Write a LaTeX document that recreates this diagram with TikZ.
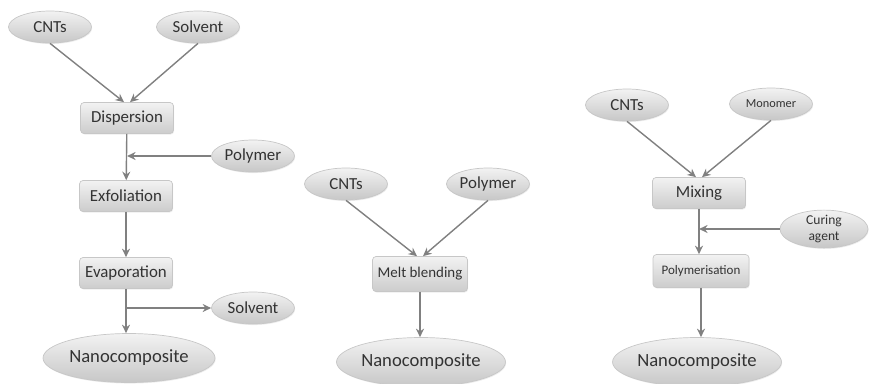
\documentclass[tikz,border=0pt]{standalone}
\usepackage{fontspec}
\setmainfont{Carlito}
\usetikzlibrary{arrows.meta,positioning,shapes.geometric,shadows,calc}

\begin{document}
\begin{tikzpicture}[
  x=0.02cm,y=-0.02cm,
  feed/.style={ellipse, draw=black!22, top color=black!5, bottom color=black!22, inner sep=0pt,
    minimum width=1.66cm, minimum height=0.64cm, text=black!80, font=\fontsize{9.6}{11}\selectfont,
    drop shadow={opacity=0.15, shadow xshift=0.4pt, shadow yshift=-0.6pt}},
  prod/.style={feed, minimum width=3.44cm, minimum height=0.98cm, font=\fontsize{10.6}{12}\selectfont},
  stage/.style={draw=black!22, rounded corners=2pt, top color=black!5, bottom color=black!20, align=center,
    minimum width=1.86cm, minimum height=0.62cm, inner sep=1pt, text=black!80, font=\fontsize{9.6}{11}\selectfont,
    drop shadow={opacity=0.15, shadow xshift=0.4pt, shadow yshift=-0.6pt}},
  arr/.style={-{Stealth[length=1.7mm,width=1.6mm]}, draw=black!50, line width=0.8pt}
]
\useasboundingbox (0,0) rectangle (869,383);

% solution processing
\node[feed] (cntA) at (50,27) {CNTs};
\node[feed] (solvA) at (198,27) {Solvent};
\node[stage] (disp) at (127,118) {Dispersion};
\node[feed] (polyA) at (253,156) {Polymer};
\node[stage] (exfo) at (126,196) {Exfoliation};
\node[stage] (evap) at (126,273) {Evaporation};
\node[feed] (solvB) at (253,308) {Solvent};
\node[prod] (ncA) at (129,358) {Nanocomposite};
\coordinate (joinA) at ($(disp.south |- polyA.west)+(0.08,0)$);
\coordinate (split) at (evap.south |- solvB.west);
\draw[arr] (cntA.south) -- ([xshift=-0.6mm]disp.north);
\draw[arr] (solvA.south) -- ([xshift=0.6mm]disp.north);
\draw[arr] (disp) -- (exfo);
\draw[arr] (polyA.west) -- (joinA);
\draw[arr] (exfo) -- (evap);
\draw[arr] (evap.south) -- (evap.south |- ncA.north);
\draw[arr] (split) -- (solvB.west);

% melt blending
\node[feed] (cntB) at (346,184) {CNTs};
\node[feed] (polyB) at (488,184) {Polymer};
\node[stage, minimum width=1.9cm, minimum height=0.7cm, font=\fontsize{8.5}{10}\selectfont] (melt) at (420,274) {Melt blending};
\node[prod, minimum width=3.36cm] (ncB) at (421,362) {Nanocomposite};
\draw[arr] (cntB.south) -- ([xshift=-0.6mm]melt.north);
\draw[arr] (polyB.south) -- ([xshift=0.6mm]melt.north);
\draw[arr] (melt.south) -- (melt.south |- ncB.north);

% in situ polymerisation
\node[feed] (cntC) at (627,105) {CNTs};
\node[feed, font=\fontsize{7}{8}\selectfont] (mono) at (771,104) {Monomer};
\node[stage] (mix) at (699,193) {Mixing};
\node[feed, minimum width=1.76cm, minimum height=0.68cm, align=center, font=\fontsize{7.7}{8.6}\selectfont] (cure) at (824,229) {Curing\\agent};
\node[stage, minimum width=1.92cm, minimum height=0.66cm, font=\fontsize{7.4}{9}\selectfont] (poly) at (701,271) {Polymerisation};
\node[prod, minimum width=3.0cm] (ncC) at (697,362) {Nanocomposite};
\coordinate (joinC) at ($(mix.south |- cure.west)+(0.08,0)$);
\draw[arr] (cntC.south) -- ([xshift=-0.6mm]mix.north);
\draw[arr] (mono.south) -- ([xshift=0.6mm]mix.north);
\draw[arr] (mix.south) -- (mix.south |- poly.north);
\draw[arr] (cure.west) -- (joinC);
\draw[arr] (poly.south) -- (poly.south |- ncC.north);
\end{tikzpicture}
\end{document}
